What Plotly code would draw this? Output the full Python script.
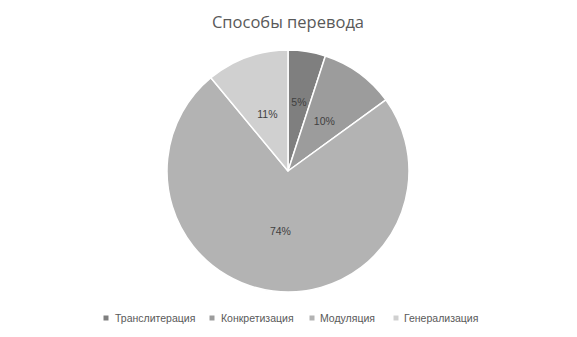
import plotly.graph_objects as go

categories = ["Транслитерация", "Конкретизация", "Модуляция", "Генерализация"]
values = [5, 10, 74, 11]
colors = ["#7f7f7f", "#9c9c9c", "#b3b3b3", "#d0d0d0"]
title_text = "Способы перевода"

W, H = 577, 337
OFF = 8  # page body margin offset
cx, cy, r = 288 - OFF, 171 - OFF, 121


def dom(radius):
    return dict(x=[(cx - radius) / W, (cx + radius) / W],
                y=[(H - cy - radius) / H, (H - cy + radius) / H])


fig = go.Figure()
fig.add_trace(go.Pie(
    labels=categories, values=values, sort=False, direction="clockwise", rotation=0,
    marker=dict(colors=colors, line=dict(color="white", width=1.5)),
    textinfo="none", domain=dom(r), showlegend=False,
    hoverinfo="label+percent",
))
# transparent ring carrying the percent labels at mid radius
fig.add_trace(go.Pie(
    labels=categories, values=values, sort=False, direction="clockwise", rotation=0,
    hole=0.5,
    marker=dict(colors=["rgba(0,0,0,0)"] * len(values), line=dict(width=0)),
    textinfo="percent", texttemplate="%{percent:.0%}", textposition="inside",
    insidetextorientation="horizontal",
    insidetextfont=dict(color="#404040", size=10.5, family="Liberation Sans"),
    domain=dom(81), showlegend=False, hoverinfo="skip",
))

# legend drawn as small squares + labels
leg_marker_x = [106, 212, 312, 396]
leg_text_x = [113, 219, 318, 402]
leg_y = 318
shapes, annotations = [], []
for cat, col, mx, tx in zip(categories, colors, leg_marker_x, leg_text_x):
    shapes.append(dict(type="rect", xref="paper", yref="paper",
                       x0=(mx - OFF - 2.5) / W, x1=(mx - OFF + 2.5) / W,
                       y0=(H - (leg_y - OFF) - 2.5) / H, y1=(H - (leg_y - OFF) + 2.5) / H,
                       fillcolor=col, line=dict(width=0)))
    annotations.append(dict(text=cat, xref="paper", yref="paper",
                            x=(tx - OFF) / W, y=(H - (leg_y - OFF)) / H,
                            xanchor="left", yanchor="middle", showarrow=False,
                            font=dict(family="Liberation Sans", size=10.5, color="#595959")))

fig.update_layout(
    width=W, height=H,
    margin=dict(l=0, r=0, t=0, b=0),
    paper_bgcolor="white", plot_bgcolor="white",
    title=dict(text=title_text, x=(288 - OFF) / W, xanchor="center",
               y=(H - (22 - OFF)) / H, yanchor="middle",
               font=dict(family="Open Sans", size=16.5, color="#595959")),
    shapes=shapes, annotations=annotations,
    showlegend=False,
)

fig.write_html("out.html")
